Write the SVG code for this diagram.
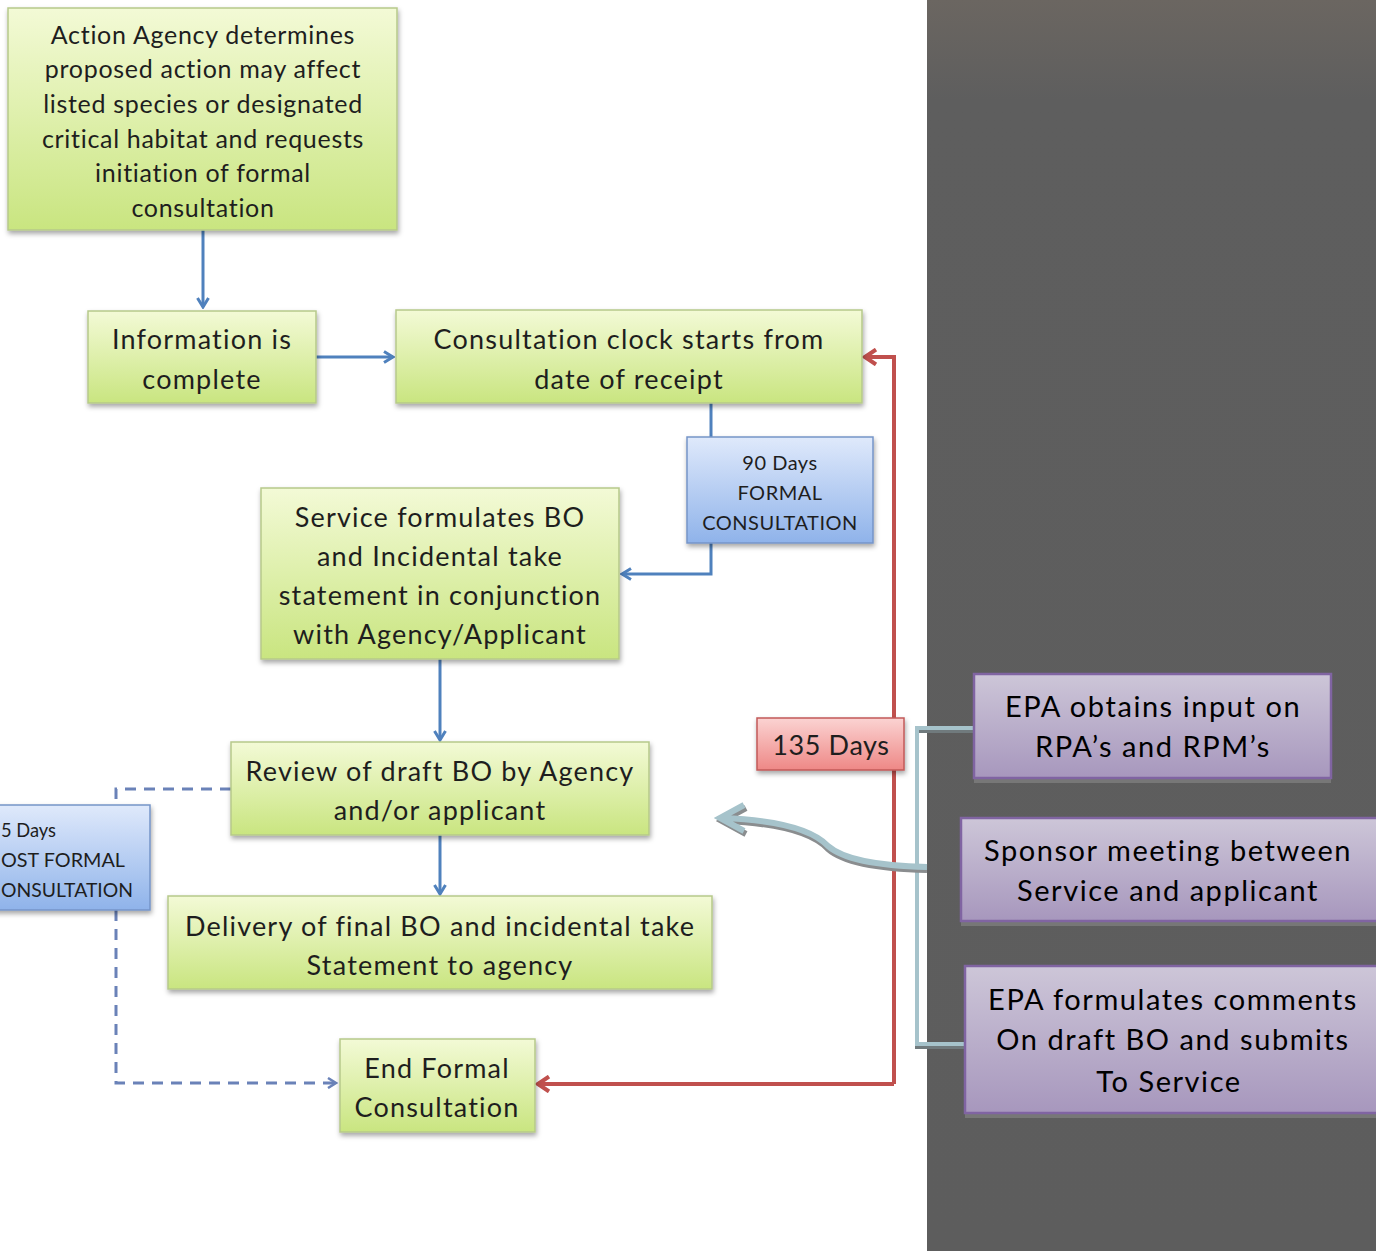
<svg xmlns="http://www.w3.org/2000/svg" width="1376" height="1251" viewBox="0 0 1376 1251">
  <defs>
    <linearGradient id="gGreen" x1="0" y1="0" x2="0" y2="1">
      <stop offset="0" stop-color="#f3fad6"/>
      <stop offset="1" stop-color="#c9e580"/>
    </linearGradient>
    <linearGradient id="gBlue" x1="0" y1="0" x2="0" y2="1">
      <stop offset="0" stop-color="#dfe9fb"/>
      <stop offset="1" stop-color="#8fb3ea"/>
    </linearGradient>
    <linearGradient id="gRed" x1="0" y1="0" x2="0" y2="1">
      <stop offset="0" stop-color="#fbd3d2"/>
      <stop offset="1" stop-color="#ee8886"/>
    </linearGradient>
    <linearGradient id="gPurple" x1="0" y1="0" x2="0" y2="1">
      <stop offset="0" stop-color="#cdc6d8"/>
      <stop offset="1" stop-color="#a797bd"/>
    </linearGradient>
    <linearGradient id="gPanel" x1="0" y1="0" x2="0" y2="1">
      <stop offset="0" stop-color="#6b6661"/>
      <stop offset="0.08" stop-color="#5e5e5e"/>
      <stop offset="1" stop-color="#5d5d5d"/>
    </linearGradient>
    <filter id="shadow" x="-10%" y="-10%" width="125%" height="135%">
      <feDropShadow dx="1" dy="3" stdDeviation="2.5" flood-color="#000" flood-opacity="0.35"/>
    </filter>
    <marker id="arrBlue" viewBox="0 0 14 14" refX="12" refY="7" markerWidth="14" markerHeight="14" markerUnits="userSpaceOnUse" orient="auto">
      <path d="M3,1.5 L12,7 L3,12.5" fill="none" stroke="#4f81bd" stroke-width="3"/>
    </marker>
    <marker id="arrRed" viewBox="0 0 18 18" refX="15" refY="9" markerWidth="18" markerHeight="18" markerUnits="userSpaceOnUse" orient="auto">
      <path d="M4,1.5 L15,9 L4,16.5" fill="none" stroke="#c0504d" stroke-width="4"/>
    </marker>
    <marker id="arrDash" viewBox="0 0 12 12" refX="10" refY="6" markerWidth="12" markerHeight="12" markerUnits="userSpaceOnUse" orient="auto">
      <path d="M2,1 L10,6 L2,11" fill="none" stroke="#6a82b8" stroke-width="2.5"/>
    </marker>
  </defs>
  <style>
    text { font-family: Lato, "Liberation Sans", sans-serif; fill: #1e1e1e; text-anchor: middle; }
    .green { fill: url(#gGreen); stroke: #b6c98a; stroke-width: 1.5; filter: url(#shadow); }
    .blue { fill: url(#gBlue); stroke: #7595c8; stroke-width: 1.5; filter: url(#shadow); }
    .red { fill: url(#gRed); stroke: #c25a58; stroke-width: 1.5; filter: url(#shadow); }
    .purple { fill: url(#gPurple); stroke: #8064a2; stroke-width: 2.5; }
    .pshadow { fill: #777777; }
    .t24 { font-size: 25px; letter-spacing: 0.7px; }
    .t26 { font-size: 27px; letter-spacing: 1.2px; }
    .t135 { font-size: 27px; letter-spacing: 0.6px; }
    .t20 { font-size: 20px; letter-spacing: 0.5px; }
    .tl { font-size: 20px; text-anchor: start; }
    .t28 { font-size: 29px; letter-spacing: 1.55px; fill: #000; }
    .cb { fill: none; stroke: #4f81bd; stroke-width: 3; }
    .cr { fill: none; stroke: #c0504d; stroke-width: 4; }
    .cd { fill: none; stroke: #6a82b8; stroke-width: 3; stroke-dasharray: 11 8; }
  </style>

  <rect x="0" y="0" width="1376" height="1251" fill="#ffffff"/>
  <rect id="panel" x="927" y="0" width="449" height="1251" fill="url(#gPanel)"/>

  <g id="connectors">
    <path class="cb" d="M203,230 L203,307" marker-end="url(#arrBlue)"/>
    <path class="cb" d="M316,357 L393,357" marker-end="url(#arrBlue)"/>
    <path class="cb" d="M711,403 L711,437"/>
    <path class="cb" d="M711,543 L711,574 L622,574" marker-end="url(#arrBlue)"/>
    <path class="cb" d="M440,659 L440,740" marker-end="url(#arrBlue)"/>
    <path class="cb" d="M440,835 L440,894" marker-end="url(#arrBlue)"/>
    <path class="cd" d="M231,789 L116,789 L116,805"/>
    <path class="cd" d="M116,910 L116,1083 L336,1083" marker-end="url(#arrDash)"/>
    <path class="cr" d="M894,1084 L894,357 L865,357" marker-end="url(#arrRed)"/>
    <path class="cr" d="M894,1084 L538,1084" marker-end="url(#arrRed)"/>
    <g id="bracket">
      <path d="M974,731 L917,731 L917,1047 L965,1047" fill="none" stroke="#707a7d" stroke-width="4"/>
      <path d="M974,728 L917,728 L917,1044 L965,1044" fill="none" stroke="#a6c3cb" stroke-width="4"/>
    </g>
    <g id="curved-arrow">
      <path d="M927,870 C885,869 845,864 828,849 C812,832 775,823 724,821 M746,808 L722,821 L746,834" fill="none" stroke="#8a8d8f" stroke-width="6"/>
      <path d="M927,867 C885,866 845,861 828,846 C812,829 775,820 722,818 M744,805 L720,818 L744,831" fill="none" stroke="#a6c3cb" stroke-width="6"/>
    </g>
  </g>

  <g id="n-action">
    <rect class="green" x="8" y="8" width="389" height="222"/>
    <text class="t24" x="203" y="44">Action Agency determines</text>
    <text class="t24" x="203" y="78">proposed action may affect</text>
    <text class="t24" x="203" y="113">listed species or designated</text>
    <text class="t24" x="203" y="148">critical habitat and requests</text>
    <text class="t24" x="203" y="182">initiation of formal</text>
    <text class="t24" x="203" y="217">consultation</text>
  </g>

  <g id="n-info">
    <rect class="green" x="88" y="311" width="228" height="92"/>
    <text class="t26" x="202" y="349">Information is</text>
    <text class="t26" x="202" y="389">complete</text>
  </g>

  <g id="n-clock">
    <rect class="green" x="396" y="310" width="466" height="93"/>
    <text class="t26" x="629" y="349">Consultation clock starts from</text>
    <text class="t26" x="629" y="389">date of receipt</text>
  </g>

  <g id="n-90days">
    <rect class="blue" x="687" y="437" width="186" height="106"/>
    <text class="t20" x="780" y="470">90 Days</text>
    <text class="t20" x="780" y="500">FORMAL</text>
    <text class="t20" x="780" y="530">CONSULTATION</text>
  </g>

  <g id="n-service">
    <rect class="green" x="261" y="488" width="358" height="171"/>
    <text class="t26" x="440" y="527">Service formulates BO</text>
    <text class="t26" x="440" y="566">and Incidental take</text>
    <text class="t26" x="440" y="605">statement in conjunction</text>
    <text class="t26" x="440" y="644">with Agency/Applicant</text>
  </g>

  <g id="n-review">
    <rect class="green" x="231" y="742" width="418" height="93"/>
    <text class="t26" x="440" y="781">Review of draft BO by Agency</text>
    <text class="t26" x="440" y="820">and/or applicant</text>
  </g>

  <g id="n-45days">
    <rect class="blue" x="-10" y="805" width="160" height="105"/>
    <text class="tl" x="1" y="837" textLength="55" lengthAdjust="spacingAndGlyphs">5 Days</text>
    <text class="tl" x="1" y="867" textLength="124" lengthAdjust="spacingAndGlyphs">OST FORMAL</text>
    <text class="tl" x="1" y="897" textLength="132" lengthAdjust="spacingAndGlyphs">ONSULTATION</text>
  </g>

  <g id="n-delivery">
    <rect class="green" x="168" y="896" width="544" height="93"/>
    <text class="t26" x="440" y="936">Delivery of final BO and incidental take</text>
    <text class="t26" x="440" y="975">Statement to agency</text>
  </g>

  <g id="n-end">
    <rect class="green" x="340" y="1039" width="195" height="93"/>
    <text class="t26" x="437" y="1078">End Formal</text>
    <text class="t26" x="437" y="1117">Consultation</text>
  </g>

  <g id="n-135days">
    <rect class="red" x="757" y="718" width="147" height="52"/>
    <text class="t135" x="831" y="755">135 Days</text>
  </g>

  <g id="n-epa-input">
    <rect class="pshadow" x="974" y="679" width="357" height="104"/>
    <rect class="purple" x="974" y="674" width="357" height="104"/>
    <text class="t28" x="1153" y="717">EPA obtains input on</text>
    <text class="t28" x="1153" y="757">RPA’s and RPM’s</text>
  </g>

  <g id="n-sponsor">
    <rect class="pshadow" x="961" y="823" width="420" height="103"/>
    <rect class="purple" x="961" y="818" width="420" height="103"/>
    <text class="t28" x="1168" y="861">Sponsor meeting between</text>
    <text class="t28" x="1168" y="901">Service and applicant</text>
  </g>

  <g id="n-epa-comments">
    <rect class="pshadow" x="965" y="971" width="416" height="147"/>
    <rect class="purple" x="965" y="966" width="416" height="147"/>
    <text class="t28" x="1173" y="1010">EPA formulates comments</text>
    <text class="t28" x="1173" y="1050">On draft BO and submits</text>
    <text class="t28" x="1169" y="1092">To Service</text>
  </g>
</svg>
